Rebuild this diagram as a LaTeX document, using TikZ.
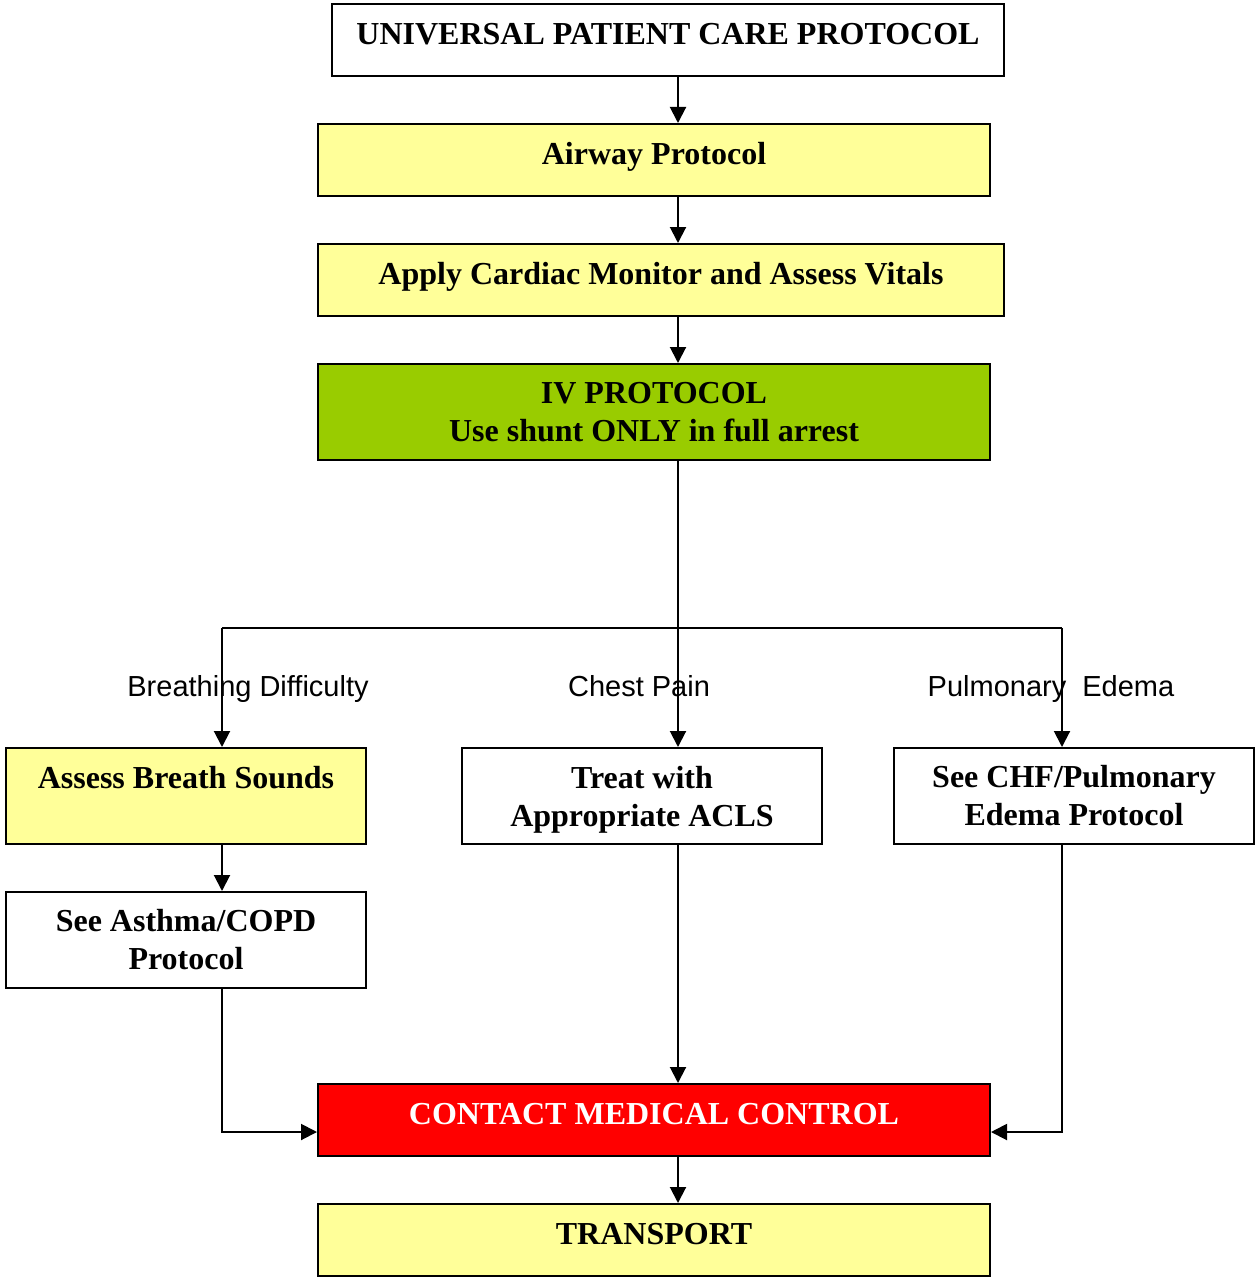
\documentclass[tikz,border=0pt]{standalone}
\usepackage{fontspec}
\setmainfont{Liberation Serif}
\setsansfont{Liberation Sans}
\usetikzlibrary{arrows.meta}
\definecolor{paleyellow}{HTML}{FFFF99}
\definecolor{ivgreen}{HTML}{99CC00}
\tikzset{
  box/.style={draw, line width=2pt, inner sep=0pt, align=center,
    font=\bfseries\fontsize{32}{38}\selectfont},
  wide/.style={box, minimum width=672pt, minimum height=72pt, text height=21pt, text depth=12pt},
  small/.style={box, minimum width=360pt, minimum height=96pt},
  lbl/.style={font=\sffamily\fontsize{29}{36}\selectfont, anchor=base, inner sep=0pt}
}
\begin{document}
\begin{tikzpicture}[x=1pt,y=-1pt,>={Triangle[length=16pt,width=16pt]},line width=2pt]
			\useasboundingbox (0,0) rectangle (1257,1279);
			% main column
			\node[wide] (upcp) at (668,40) {UNIVERSAL PATIENT CARE PROTOCOL};
			\node[wide,fill=paleyellow] (airway) at (654,160) {Airway Protocol};
			\node[wide,fill=paleyellow,minimum width=686pt] (cardiac) at (661,280) {Apply Cardiac Monitor and Assess Vitals};
			\node[box,fill=ivgreen,minimum width=672pt,minimum height=96pt] (iv) at (654,412) {IV PROTOCOL\\Use shunt ONLY in full arrest};
			% branches
			\node[small,fill=paleyellow,text height=21pt,text depth=37pt] (breath) at (186,796) {Assess Breath Sounds};
			\node[small,text depth=0pt] (acls) at (642,796) {Treat with\\Appropriate ACLS};
			\node[small] (chf) at (1074,796) {See CHF/Pulmonary\\Edema Protocol};
			\node[small] (asthma) at (186,940) {See Asthma/COPD\\Protocol};
			\node[wide,fill=red,text=white] (medctl) at (654,1120) {CONTACT MEDICAL CONTROL};
			\node[wide,fill=paleyellow] (transport) at (654,1240) {TRANSPORT};
			% branch points
			\coordinate (trunk) at (678,628);
			\coordinate (lbranch) at (222,628);
			\coordinate (rbranch) at (1062,628);
			\draw[->] (upcp.south -| trunk) -- (airway.north -| trunk);
			\draw[->] (airway.south -| trunk) -- (cardiac.north -| trunk);
			\draw[->] (cardiac.south -| trunk) -- (iv.north -| trunk);
			\draw (iv.south -| trunk) -- (trunk);
			\draw (lbranch) -- (rbranch);
			\draw[->] (lbranch) -- (breath.north -| lbranch);
			\draw[->] (trunk) -- (acls.north -| trunk);
			\draw[->] (rbranch) -- (chf.north -| rbranch);
			\node[lbl] (lbreath) at (248,696) {Breathing Difficulty};
			\node[lbl] (lchest) at (639,696) {Chest Pain};
			\node[lbl] (ledema) at (1051,696) {Pulmonary\ \ Edema};
			\draw[->] (breath.south -| lbranch) -- (asthma.north -| lbranch);
			\draw[->] (asthma.south -| lbranch) |- ([yshift=-12pt]medctl.west);
			\draw[->] (acls.south -| trunk) -- (medctl.north -| trunk);
			\draw[->] (chf.south -| rbranch) |- ([yshift=-12pt]medctl.east);
			\draw[->] (medctl.south -| trunk) -- (transport.north -| trunk);
		\end{tikzpicture}
\end{document}
